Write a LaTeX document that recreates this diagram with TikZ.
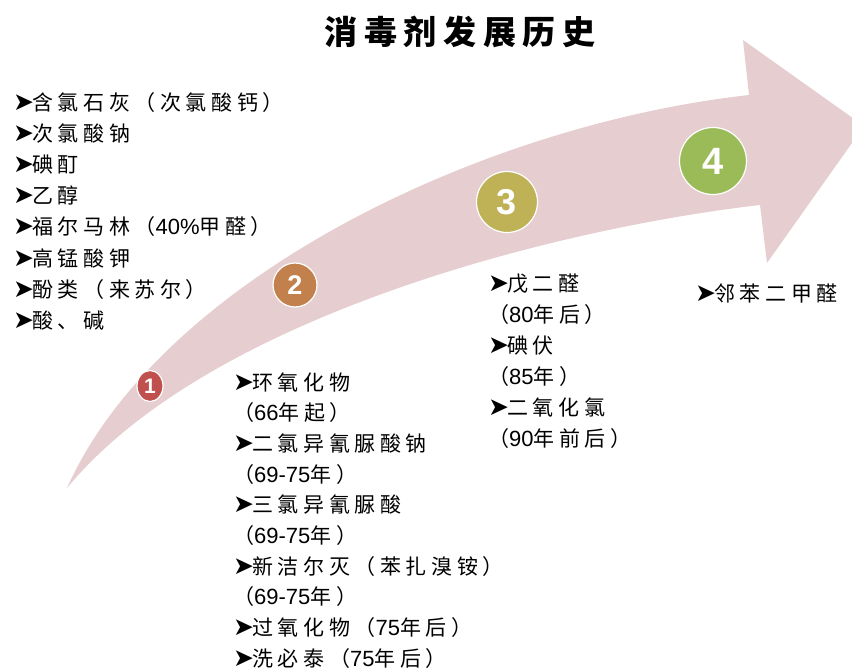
\documentclass[tikz,border=0pt]{standalone}
\usepackage{fontspec}
\setmainfont{Liberation Sans}
\newfontfamily\cjk{Noto Sans CJK SC}[LetterSpace=22]
\newfontfamily\cjktitle{Noto Sans CJK SC}[LetterSpace=20]
\newfontfamily\dingfont{DejaVu Sans}
\newfontfamily\latinfont{Liberation Sans}
\usetikzlibrary{shapes.geometric}
\definecolor{arrowpink}{RGB}{230,206,208}
\definecolor{bonecol}{RGB}{192,80,77}
\definecolor{btwocol}{RGB}{193,128,76}
\definecolor{bthreecol}{RGB}{190,177,86}
\definecolor{bfourcol}{RGB}{155,187,89}
\newcommand\bul{\makebox[19pt][l]{\dingfont\fontsize{25}{25}\selectfont ➤}}
\newcommand\dg[1]{{\latinfont\fontsize{22}{22}\selectfont #1}}
\tikzset{
  textline/.style={anchor=base west, inner sep=0pt, font=\cjk\fontsize{21}{21}\selectfont},
  badge/.style={draw=white, line width=1.2pt, text=white, inner sep=0pt, font=\bfseries},
  titletext/.style={inner sep=0pt, font=\cjktitle\bfseries\fontsize{33}{33}\selectfont}
}
\begin{document}
\begin{tikzpicture}[x=1pt,y=-1pt]
\useasboundingbox (0,0) rectangle (852,672);
\begin{scope}
\clip (0,0) rectangle (852,672);
\fill[arrowpink] (67,488) .. controls (160,280) and (480,125) .. (749,95)
  -- (743,40) -- (864,126) -- (767,263) -- (760,205)
  .. controls (560,228) and (210,315) .. (67,488) -- cycle;
\end{scope}

\node[titletext] (title) at (460,32) {消毒剂发展历史};

\node[badge, ellipse, fill=bonecol, minimum width=26, minimum height=31] (b1) at (150,386) {\fontsize{21}{21}\selectfont 1};
\node[badge, circle, fill=btwocol, minimum size=44] (b2) at (295,285) {\fontsize{27}{27}\selectfont 2};
\node[badge, circle, fill=bthreecol, minimum size=61] (b3) at (507,202) {\fontsize{36}{36}\selectfont 3};
\node[badge, circle, fill=bfourcol, minimum size=67] (b4) at (713,161) {\fontsize{38}{38}\selectfont 4};

\foreach \t [count=\i from 0] in {{含氯石灰（次氯酸钙）},{次氯酸钠},{碘酊},{乙醇},{福尔马林（\dg{40\%}甲醛）},{高锰酸钾},{酚类（来苏尔）},{酸、碱}}
  \node[textline] (L\i) at (13,110+31.2*\i) {\bul\t};

\foreach \t [count=\i from 0] in {{\bul 环氧化物},{（\dg{66}年起）},{\bul 二氯异氰脲酸钠},{（\dg{69-75}年）},{\bul 三氯异氰脲酸},{（\dg{69-75}年）},{\bul 新洁尔灭（苯扎溴铵）},{（\dg{69-75}年）},{\bul 过氧化物（\dg{75}年后）},{\bul 洗必泰（\dg{75}年后）}}
  \node[textline] (M\i) at (233,390+30.7*\i) {\t};

\foreach \t [count=\i from 0] in {{\bul 戊二醛},{（\dg{80}年后）},{\bul 碘伏},{（\dg{85}年）},{\bul 二氧化氯},{（\dg{90}年前后）}}
  \node[textline] (R\i) at (488,291+31*\i) {\t};

\node[textline] (F0) at (695,301) {\bul 邻苯二甲醛};
\end{tikzpicture}
\end{document}
